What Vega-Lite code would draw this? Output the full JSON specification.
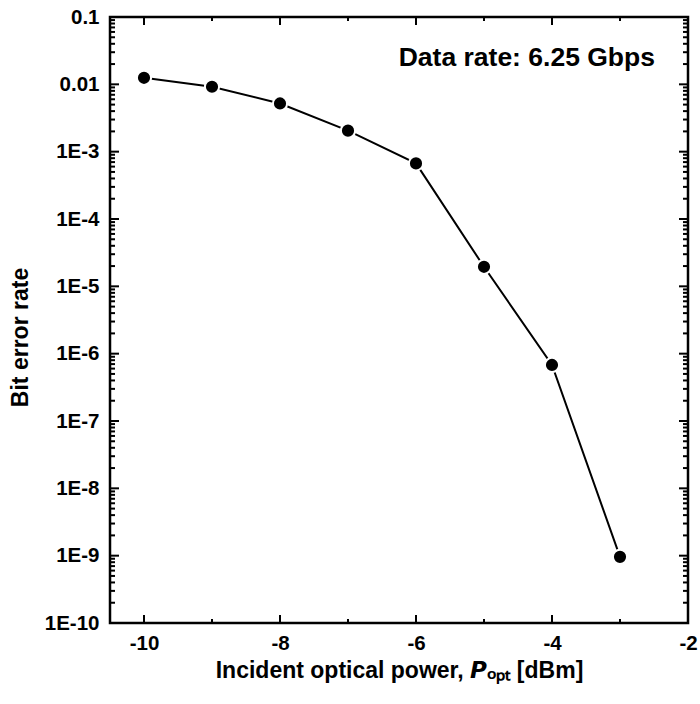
{
  "$schema": "https://vega.github.io/schema/vega-lite/v6.json",
  "width": 578,
  "height": 606,
  "autosize": {"type": "none"},
  "padding": {"left": 110, "top": 17, "right": 12, "bottom": 81},
  "background": "white",
  "config": {
    "view": {"stroke": "black", "strokeWidth": 2.5},
    "font": "Liberation Sans",
    "axis": {
      "grid": false,
      "domain": false,
      "ticks": false,
      "labelFont": "Liberation Sans",
      "labelFontWeight": "bold",
      "labelFontSize": 20.5,
      "labelColor": "black",
      "titleFont": "Liberation Sans",
      "titleFontWeight": "bold",
      "titleFontSize": 23,
      "titleColor": "black",
      "labelOverlap": false,
      "labelFlush": false
    }
  },
  "datasets": {
    "xmajor": [{"v": -10}, {"v": -8}, {"v": -6}, {"v": -4}],
    "xminor": [{"v": -9}, {"v": -7}, {"v": -5}, {"v": -3}],
    "ymajor": [{"v": 1e-9}, {"v": 1e-8}, {"v": 1e-7}, {"v": 1e-6}, {"v": 1e-5}, {"v": 1e-4}, {"v": 0.001}, {"v": 0.01}],
    "yminor": [
      {"v": 2e-10}, {"v": 3e-10}, {"v": 4e-10}, {"v": 5e-10}, {"v": 6e-10}, {"v": 7e-10}, {"v": 8e-10}, {"v": 9e-10},
      {"v": 2e-9}, {"v": 3e-9}, {"v": 4e-9}, {"v": 5e-9}, {"v": 6e-9}, {"v": 7e-9}, {"v": 8e-9}, {"v": 9e-9},
      {"v": 2e-8}, {"v": 3e-8}, {"v": 4e-8}, {"v": 5e-8}, {"v": 6e-8}, {"v": 7e-8}, {"v": 8e-8}, {"v": 9e-8},
      {"v": 2e-7}, {"v": 3e-7}, {"v": 4e-7}, {"v": 5e-7}, {"v": 6e-7}, {"v": 7e-7}, {"v": 8e-7}, {"v": 9e-7},
      {"v": 2e-6}, {"v": 3e-6}, {"v": 4e-6}, {"v": 5e-6}, {"v": 6e-6}, {"v": 7e-6}, {"v": 8e-6}, {"v": 9e-6},
      {"v": 2e-5}, {"v": 3e-5}, {"v": 4e-5}, {"v": 5e-5}, {"v": 6e-5}, {"v": 7e-5}, {"v": 8e-5}, {"v": 9e-5},
      {"v": 2e-4}, {"v": 3e-4}, {"v": 4e-4}, {"v": 5e-4}, {"v": 6e-4}, {"v": 7e-4}, {"v": 8e-4}, {"v": 9e-4},
      {"v": 0.002}, {"v": 0.003}, {"v": 0.004}, {"v": 0.005}, {"v": 0.006}, {"v": 0.007}, {"v": 0.008}, {"v": 0.009},
      {"v": 0.02}, {"v": 0.03}, {"v": 0.04}, {"v": 0.05}, {"v": 0.06}, {"v": 0.07}, {"v": 0.08}, {"v": 0.09}
    ]
  },
  "data": {
    "values": [
      {"power": -10, "ber": 0.0125},
      {"power": -9, "ber": 0.0092},
      {"power": -8, "ber": 0.0052},
      {"power": -7, "ber": 0.00205},
      {"power": -6, "ber": 0.00067},
      {"power": -5, "ber": 0.0000195},
      {"power": -4, "ber": 0.00000068},
      {"power": -3, "ber": 0.00000000096}
    ]
  },
  "layer": [
    {
      "mark": {"type": "line", "color": "black", "strokeWidth": 2},
      "encoding": {
        "x": {
          "field": "power", "type": "quantitative",
          "scale": {"domain": [-10.5, -2], "nice": false, "zero": false},
          "axis": {"orient": "bottom", "values": [-10, -8, -6, -4, -2], "labelPadding": 10,
                   "labelExpr": "'' + datum.value",
                   "title": "Incident optical power, 𝙋ₒₚₜ [dBm]", "titlePadding": 6}
        },
        "y": {
          "field": "ber", "type": "quantitative",
          "scale": {"type": "log", "domain": [1e-10, 0.1], "nice": false},
          "axis": {"orient": "left", "values": [1e-10, 1e-9, 1e-8, 1e-7, 1e-6, 1e-5, 1e-4, 0.001, 0.01, 0.1],
                   "labelPadding": 11,
                   "labelExpr": "datum.value >= 0.05 ? '0.1' : datum.value >= 0.005 ? '0.01' : '1E' + round(log(datum.value)/LN10)",
                   "title": "Bit error rate", "titlePadding": 12, "titleY": 320}
        }
      }
    },
    {
      "mark": {"type": "point", "filled": true, "fill": "black", "stroke": "white", "strokeWidth": 2, "size": 201, "opacity": 1},
      "encoding": {
        "x": {"field": "power", "type": "quantitative", "axis": null},
        "y": {"field": "ber", "type": "quantitative", "axis": null}
      }
    },
    {
      "data": {"name": "xmajor"},
      "mark": {"type": "tick", "orient": "vertical", "color": "black", "opacity": 1, "thickness": 2, "size": 8, "yOffset": -4},
      "encoding": {
        "x": {"field": "v", "type": "quantitative", "axis": null},
        "y": {"datum": 1e-10, "type": "quantitative", "axis": null}
      }
    },
    {
      "data": {"name": "xmajor"},
      "mark": {"type": "tick", "orient": "vertical", "color": "black", "opacity": 1, "thickness": 2, "size": 8, "yOffset": 4},
      "encoding": {
        "x": {"field": "v", "type": "quantitative", "axis": null},
        "y": {"datum": 0.1, "type": "quantitative", "axis": null}
      }
    },
    {
      "data": {"name": "xminor"},
      "mark": {"type": "tick", "orient": "vertical", "color": "black", "opacity": 1, "thickness": 2, "size": 4, "yOffset": -2},
      "encoding": {
        "x": {"field": "v", "type": "quantitative", "axis": null},
        "y": {"datum": 1e-10, "type": "quantitative", "axis": null}
      }
    },
    {
      "data": {"name": "xminor"},
      "mark": {"type": "tick", "orient": "vertical", "color": "black", "opacity": 1, "thickness": 2, "size": 4, "yOffset": 2},
      "encoding": {
        "x": {"field": "v", "type": "quantitative", "axis": null},
        "y": {"datum": 0.1, "type": "quantitative", "axis": null}
      }
    },
    {
      "data": {"name": "ymajor"},
      "mark": {"type": "tick", "orient": "horizontal", "color": "black", "opacity": 1, "thickness": 2, "size": 9, "xOffset": 4.5},
      "encoding": {
        "y": {"field": "v", "type": "quantitative", "axis": null},
        "x": {"datum": -10.5, "type": "quantitative", "axis": null}
      }
    },
    {
      "data": {"name": "ymajor"},
      "mark": {"type": "tick", "orient": "horizontal", "color": "black", "opacity": 1, "thickness": 2, "size": 9, "xOffset": -4.5},
      "encoding": {
        "y": {"field": "v", "type": "quantitative", "axis": null},
        "x": {"datum": -2, "type": "quantitative", "axis": null}
      }
    },
    {
      "data": {"name": "yminor"},
      "mark": {"type": "tick", "orient": "horizontal", "color": "black", "opacity": 1, "thickness": 2, "size": 5, "xOffset": 2.5},
      "encoding": {
        "y": {"field": "v", "type": "quantitative", "axis": null},
        "x": {"datum": -10.5, "type": "quantitative", "axis": null}
      }
    },
    {
      "data": {"name": "yminor"},
      "mark": {"type": "tick", "orient": "horizontal", "color": "black", "opacity": 1, "thickness": 2, "size": 5, "xOffset": -2.5},
      "encoding": {
        "y": {"field": "v", "type": "quantitative", "axis": null},
        "x": {"datum": -2, "type": "quantitative", "axis": null}
      }
    },
    {
      "data": {"values": [{"note": "Data rate: 6.25 Gbps"}]},
      "mark": {"type": "text", "font": "Liberation Sans", "fontWeight": "bold", "fontSize": 26.5, "color": "black", "align": "center", "baseline": "middle"},
      "encoding": {
        "x": {"datum": -4.37, "type": "quantitative", "axis": null},
        "y": {"datum": 0.0245, "type": "quantitative", "axis": null},
        "text": {"field": "note", "type": "nominal"}
      }
    }
  ],
  "resolve": {"axis": {"x": "independent", "y": "independent"}}
}
